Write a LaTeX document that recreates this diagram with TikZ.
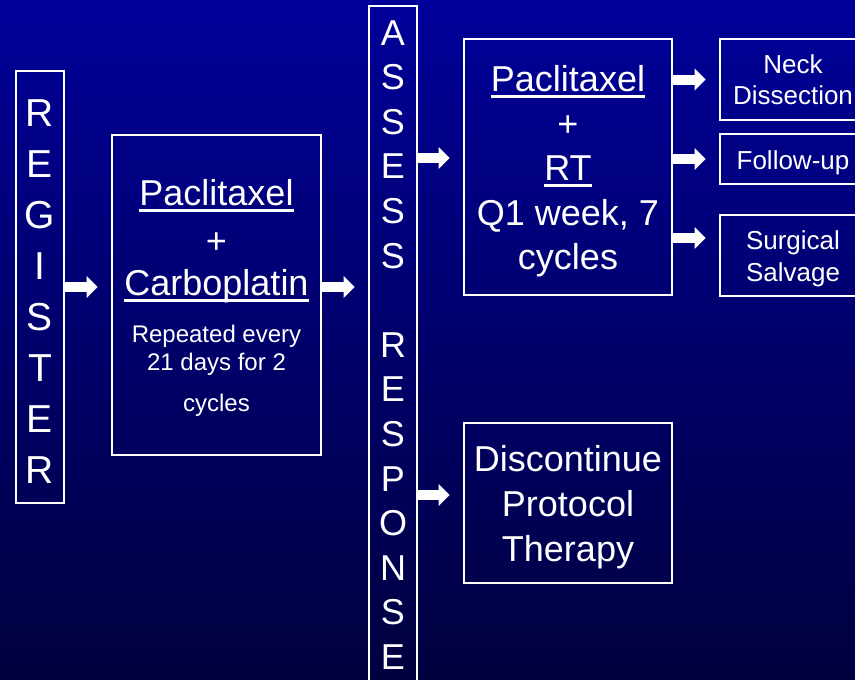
\documentclass[tikz,border=0pt]{standalone}
\usepackage{fontspec}
\setmainfont{Liberation Sans}
\usetikzlibrary{arrows.meta}
\definecolor{bgtop}{RGB}{0,0,153}
\definecolor{bgmid}{RGB}{0,0,118}
\definecolor{bgbot}{RGB}{0,0,62}
\newcommand\myul[1]{\setbox0\hbox{#1}\leavevmode\rlap{\rule[-6.5pt]{\wd0}{2.8pt}}\box0}
\newcommand\lift[1]{\rule{0pt}{#1}}
\begin{document}
\begin{tikzpicture}[x=1pt,y=-1pt,
  box/.style={draw=white, line width=2.8pt, inner sep=0pt, text=white, align=center},
  blk/.style={draw=white, line width=10pt, line cap=butt,
     -{Triangle[width=22pt,length=11pt,line width=0pt]}, shorten >=13pt}
]
\useasboundingbox (0,0) rectangle (855,680);
\clip (0,0) rectangle (855,680);
\shade[top color=bgtop, middle color=bgmid, bottom color=bgbot] (0,0) rectangle (855,680);

\node[box, minimum width=48pt, minimum height=432pt, font=\fontsize{39}{51}\selectfont] (reg) at (40,287)
  {\lift{36pt}R\\E\\G\\I\\S\\T\\E\\R};

\node[box, minimum width=209pt, minimum height=320pt, font=\fontsize{36}{46}\selectfont] (pc) at (216.5,295)
  {\lift{32pt}\myul{Paclitaxel}\\[1.6pt] +\\[-3.6pt] \myul{Carboplatin}\\[1pt]
   {\fontsize{24}{28}\selectfont Repeated every}\\[-18pt]
   {\fontsize{24}{28}\selectfont 21 days for 2}\\[-5pt]
   {\fontsize{24}{28}\selectfont cycles}};

\node[box, minimum width=48pt, minimum height=678pt, font=\fontsize{36}{44.6}\selectfont] (assess) at (393,345)
  {A\\S\\S\\E\\S\\S\\[44.6pt]R\\E\\S\\P\\O\\N\\S\\E};

\node[box, minimum width=208pt, minimum height=256pt, font=\fontsize{36}{44.5}\selectfont] (prt) at (568,167)
  {\lift{35pt}\myul{Paclitaxel}\\+\\\myul{RT}\\Q1 week, 7\\cycles};

\node[box, minimum width=208pt, minimum height=160pt, font=\fontsize{36}{45}\selectfont] (disc) at (568,503)
  {\lift{34pt}Discontinue\\Protocol\\Therapy};

\node[box, minimum width=146pt, minimum height=81pt, font=\fontsize{26}{31.5}\selectfont] (neck) at (793,79.5)
  {Neck\\Dissection};
\node[box, minimum width=146pt, minimum height=50pt, font=\fontsize{26}{31.5}\selectfont] (follow) at (793,159)
  {\lift{27pt}Follow-up};
\node[box, minimum width=146pt, minimum height=81pt, font=\fontsize{26}{31.5}\selectfont] (surg) at (793,255.5)
  {\lift{25pt}Surgical\\Salvage};

\coordinate (y3) at (0,158);
\coordinate (y4) at (0,495);
\coordinate (y5) at (0,238);

\draw[blk] (reg.east) -- (reg.east -| pc.west);
\draw[blk] (pc.east |- reg.east) -- (assess.west |- reg.east);
\draw[blk] (assess.east |- y3) -- (prt.west |- y3);
\draw[blk] (assess.east |- y4) -- (disc.west |- y4);
\draw[blk] (prt.east |- neck.west) -- (neck.west);
\draw[blk] (prt.east |- follow.west) -- (follow.west);
\draw[blk] (prt.east |- y5) -- (surg.west |- y5);
\end{tikzpicture}
\end{document}
